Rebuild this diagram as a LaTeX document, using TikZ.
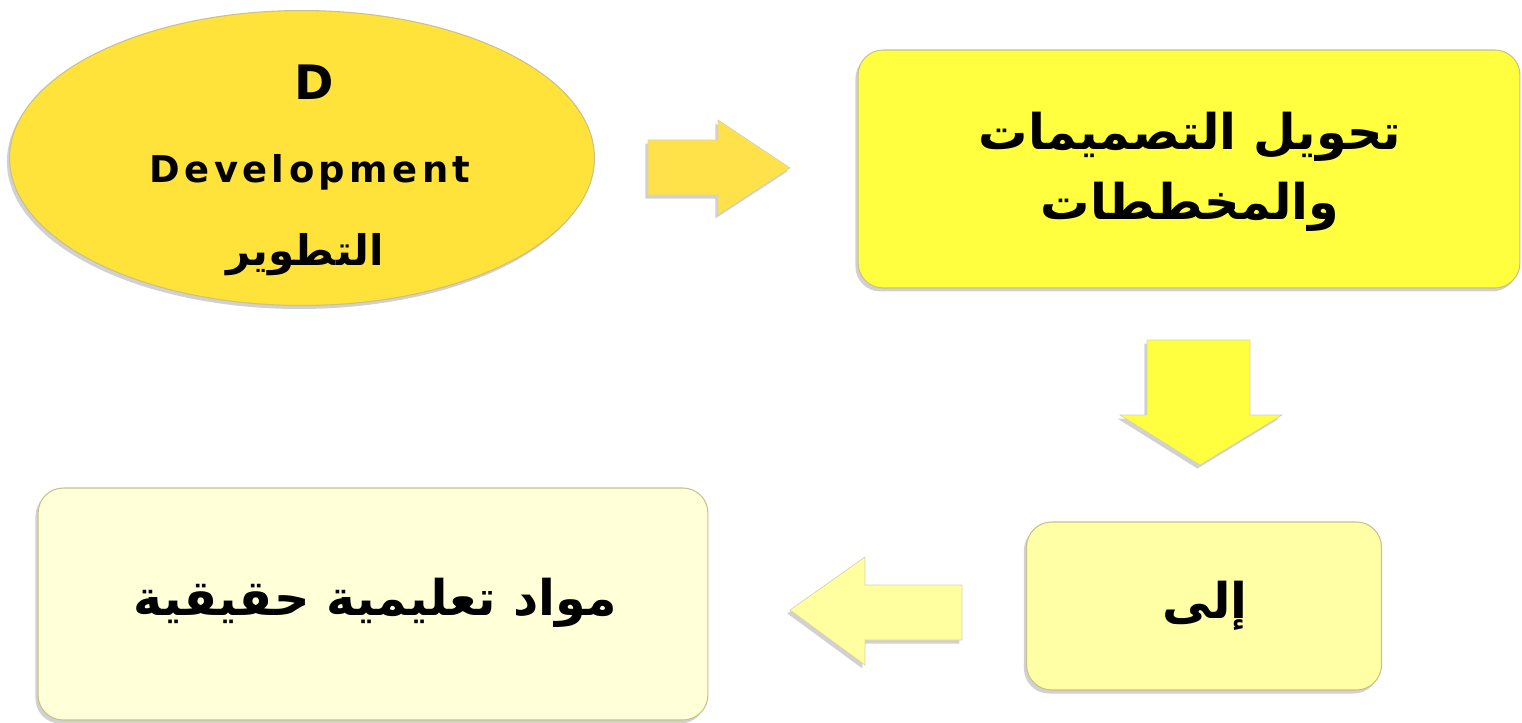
\documentclass[tikz,border=0pt]{standalone}
\usepackage{fontspec}
\setmainfont{DejaVu Sans}
\newfontfamily\arabicfont[Script=Arabic]{DejaVu Sans}
\newfontfamily\widefont[LetterSpace=12]{DejaVu Sans}
\TeXXeTstate=1
\usepackage{tikz}
\usetikzlibrary{shapes.geometric,shadows}
\definecolor{gold}{HTML}{FFE33B}
\definecolor{goldarrow}{HTML}{FFE14A}
\definecolor{lemon}{HTML}{FFFF40}
\definecolor{pale}{HTML}{FFFFA6}
\definecolor{palearrow}{HTML}{FFFFA0}
\definecolor{cream}{HTML}{FFFFD8}
\definecolor{rim}{HTML}{C9C08A}

\begin{document}
\begin{tikzpicture}[x=0.02cm,y=-0.02cm,
  shade/.style={drop shadow={shadow xshift=-1.5pt,shadow yshift=-2pt,opacity=.3,fill=black!60}},
  box/.style={rectangle,rounded corners=0.5cm,draw=rim,line width=0.6pt,shade},
  blockarrow/.style={draw=rim!70,line width=0.4pt,shade},
  ar/.style={font=\arabicfont\bfseries\fontsize{28}{40}\selectfont,align=center}]
\useasboundingbox (0,0) rectangle (1522,723);
% shapes
\node (1) at (302,158)[ellipse,draw=rim,line width=0.6pt,fill=gold,shade,minimum width=11.7cm,minimum height=5.9cm] {};
\node (2) at (1189,169)[box,fill=lemon,minimum width=13.24cm,minimum height=4.76cm] {};
\node (3) at (1204,606)[box,fill=pale,minimum width=7.1cm,minimum height=3.36cm] {};
\node (4) at (373,604)[box,fill=cream,minimum width=13.4cm,minimum height=4.64cm] {};
% texts
\node (1a) at (314,82) {\bfseries\fontsize{27}{30}\selectfont D};
\node (1b) at (310,172) {\widefont\bfseries\fontsize{21}{24}\selectfont Development};
\node (1c) at (305,255)[font=\arabicfont\bfseries\fontsize{24}{28}\selectfont] {\beginR التطوير\endR};
\node (2a) at (1190,172)[ar] {\beginR تحويل التصميمات\endR\\\beginR والمخططات\endR};
\node (3a) at (1205,606)[ar] {\beginR إلى\endR};
\node (4a) at (375,603)[ar] {\beginR مواد تعليمية حقيقية\endR};
% arrows
\filldraw[blockarrow,fill=goldarrow] (648,140) -- (718,140) -- (718,120) -- (790,168) -- (718,215) -- (718,195) -- (648,195) -- cycle;
\filldraw[blockarrow,fill=lemon] (1147,340) -- (1250,340) -- (1250,415) -- (1282,415) -- (1200,465) -- (1120,415) -- (1147,415) -- cycle;
\filldraw[blockarrow,fill=palearrow] (962,585) -- (962,640) -- (865,640) -- (865,665) -- (790,610) -- (865,557) -- (865,585) -- cycle;
\end{tikzpicture}
\end{document}
